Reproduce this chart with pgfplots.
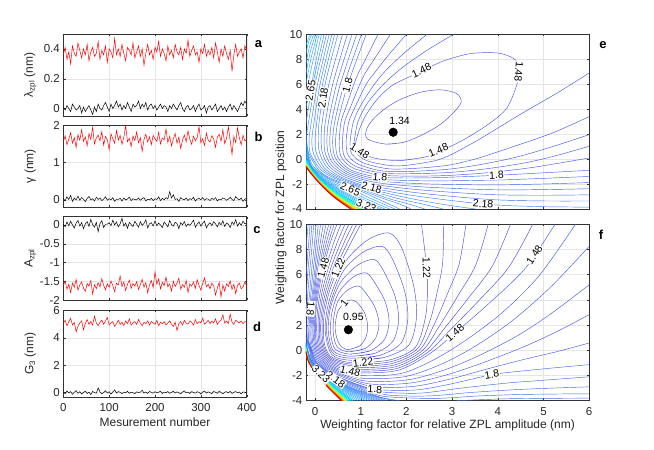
\documentclass[border=0pt]{standalone}
\usepackage{pgfplots}
\pgfplotsset{compat=1.18}
\usepackage{pgfplotstable}
\usepackage{fontspec}
\setmainfont{Liberation Sans}
\definecolor{cA}{rgb}{0.30,0.30,0.85}
\definecolor{cB}{rgb}{0.28,0.34,0.90}
\definecolor{cC}{rgb}{0.25,0.40,0.95}
\definecolor{cD}{rgb}{0.20,0.50,1.00}
\definecolor{cE}{rgb}{0.12,0.62,1.00}
\definecolor{cF}{rgb}{0.05,0.72,1.00}
\definecolor{b1}{rgb}{0.05,0.78,1.00}
\definecolor{b2}{rgb}{0.00,0.88,1.00}
\definecolor{b3}{rgb}{0.00,0.97,0.95}
\definecolor{b4}{rgb}{0.25,1.00,0.75}
\definecolor{b5}{rgb}{0.50,1.00,0.50}
\definecolor{b6}{rgb}{0.75,1.00,0.25}
\definecolor{b7}{rgb}{0.95,0.95,0.05}
\definecolor{b8}{rgb}{1.00,0.80,0.00}
\definecolor{b9}{rgb}{1.00,0.60,0.00}
\definecolor{b10}{rgb}{1.00,0.42,0.00}
\definecolor{b11}{rgb}{1.00,0.20,0.00}
\definecolor{b12}{rgb}{0.85,0.00,0.00}
\pgfplotstableread{
x ar ak br bk cr ck dr dk
0 0.36 0.01 1.55 0.03 -1.62 0.02 5.05 0.05
4 0.41 -0.01 1.72 -0.02 -1.50 -0.05 5.30 -0.08
8 0.33 0.02 1.48 0.08 -1.71 0.08 4.90 0.12
12 0.38 0.00 1.63 0.01 -1.58 -0.02 5.20 -0.02
16 0.30 -0.02 1.80 0.12 -1.80 0.10 5.45 0.08
20 0.42 0.03 1.52 -0.04 -1.55 0.00 4.95 -0.12
24 0.37 0.01 1.67 0.05 -1.66 -0.08 5.15 0.03
28 0.35 -0.01 1.41 0.00 -1.45 0.05 4.45 0.15
32 0.44 0.00 1.75 0.10 -1.74 0.12 4.85 -0.05
36 0.39 0.02 1.60 -0.01 -1.60 -0.03 5.10 0.07
40 0.34 -0.03 1.88 0.06 -1.52 0.06 5.25 -0.10
44 0.40 0.01 1.57 0.02 -1.68 -0.10 4.60 0.02
48 0.36 -0.02 1.69 -0.05 -1.77 0.03 5.05 0.10
52 0.43 0.00 1.45 0.04 -1.56 0.09 5.35 -0.06
56 0.32 0.02 1.78 0.09 -1.63 -0.04 5.00 0.04
60 0.38 -0.01 1.62 0.00 -1.48 0.15 5.20 -0.15
64 0.41 -0.04 1.95 0.03 -1.84 0.01 4.95 0.09
68 0.35 0.01 1.50 -0.03 -1.59 -0.06 5.60 0.00
72 0.37 -0.02 1.66 0.07 -1.70 0.07 5.10 -0.04
76 0.45 0.03 1.74 0.01 -1.54 -0.18 4.90 0.35
80 0.33 0.00 1.58 0.05 -1.65 0.04 5.15 0.06
84 0.39 -0.01 1.83 -0.02 -1.43 0.11 5.30 -0.09
88 0.36 0.02 1.47 0.02 -1.61 -0.07 5.00 0.01
92 0.42 0.04 1.70 0.08 -1.73 0.02 5.25 0.14
96 0.31 0.01 1.61 -0.01 -1.57 0.02 5.50 -0.03
100 0.40 -0.02 1.35 0.03 -1.66 0.06 4.95 0.07
104 0.38 0.03 1.77 0.00 -1.49 -0.02 5.10 -0.11
108 0.34 0.00 1.64 0.06 -1.62 0.13 5.20 0.05
112 0.47 0.02 1.52 -0.04 -1.78 0.00 4.85 0.20
116 0.36 0.05 1.86 0.02 -1.55 0.08 5.05 -0.02
120 0.40 0.01 1.60 0.01 -1.60 -0.05 5.30 0.08
124 0.35 0.03 1.73 0.04 -1.36 0.03 5.00 0.02
128 0.43 -0.01 1.49 -0.03 -1.64 0.18 5.15 -0.07
132 0.37 0.02 1.68 0.05 -1.52 -0.03 4.90 0.04
136 0.32 0.00 1.99 0.00 -1.75 0.05 5.25 -0.01
140 0.41 0.04 1.56 0.02 -1.58 -0.09 5.05 0.10
144 0.39 0.01 1.65 0.07 -1.47 0.07 5.40 -0.05
148 0.36 -0.02 1.43 -0.02 -1.69 0.01 4.95 0.03
152 0.44 0.03 1.71 0.03 -1.56 -0.04 5.10 0.00
156 0.34 0.01 1.59 0.01 -1.63 0.10 5.20 -0.08
160 0.38 0.02 1.82 0.00 -1.51 0.02 5.00 0.06
164 0.42 0.05 1.53 0.05 -1.72 -0.06 5.35 0.01
168 0.35 0.00 1.67 -0.01 -1.59 0.09 5.10 0.04
172 0.40 0.03 1.30 0.03 -1.45 -0.01 4.90 0.18
176 0.29 0.01 1.62 0.06 -1.66 0.04 5.15 -0.03
180 0.37 0.04 1.76 -0.03 -1.54 0.14 5.05 0.05
184 0.43 -0.01 1.55 0.02 -1.81 -0.08 5.25 -0.06
188 0.36 0.02 1.69 0.00 -1.60 0.03 4.95 0.09
192 0.39 0.03 1.48 0.04 -1.48 0.06 5.20 0.02
196 0.33 0.00 1.73 -0.02 -1.67 -0.03 5.10 -0.04
200 0.41 0.02 1.64 0.03 -1.25 0.11 5.00 0.07
204 0.38 -0.01 1.57 0.01 -1.58 -0.02 5.30 -0.01
208 0.45 0.01 1.81 0.08 -1.44 0.05 4.90 0.03
212 0.35 0.03 1.50 -0.02 -1.70 0.00 5.15 0.11
216 0.40 0.00 1.66 0.04 -1.53 -0.07 5.05 -0.07
220 0.37 0.02 1.61 0.00 -1.62 0.08 5.20 0.04
224 0.32 0.01 1.90 0.06 -1.39 0.02 4.95 0.00
228 0.42 -0.02 1.54 0.02 -1.65 -0.05 5.10 0.08
232 0.36 0.02 1.70 0.22 -1.57 0.12 5.25 -0.05
236 0.39 0.00 1.45 0.05 -1.76 0.01 5.00 0.02
240 0.34 0.03 1.63 0.14 -1.50 -0.03 4.85 0.10
244 0.43 0.01 1.78 0.01 -1.64 0.07 5.15 -0.03
248 0.38 -0.01 1.52 0.03 -1.55 0.04 4.55 0.06
252 0.36 0.02 1.68 -0.04 -1.42 -0.10 5.05 0.00
256 0.41 0.04 1.38 0.06 -1.71 0.06 5.20 -0.09
260 0.33 0.00 1.60 0.02 -1.59 0.00 4.95 0.05
264 0.40 -0.02 1.74 0.00 -1.66 0.09 5.30 0.13
268 0.37 0.01 1.56 0.05 -1.48 -0.04 5.10 -0.02
272 0.46 0.02 1.85 -0.02 -1.80 0.03 5.00 0.04
276 0.35 -0.01 1.62 0.03 -1.57 -0.01 5.25 -0.06
280 0.39 0.00 1.49 0.01 -1.63 0.05 5.15 0.08
284 0.42 0.02 1.71 0.07 -1.52 0.13 4.95 0.01
288 0.36 -0.02 1.58 -0.03 -1.69 -0.06 5.35 -0.04
292 0.38 0.01 1.67 0.02 -1.46 0.02 5.05 0.07
296 0.31 0.03 1.97 0.04 -1.61 0.08 5.20 0.02
300 0.40 -0.01 1.53 0.00 -1.74 -0.03 5.10 -0.10
304 0.37 0.00 1.64 0.06 -1.56 0.04 5.45 0.05
308 0.43 0.02 1.46 -0.01 -1.41 0.10 5.00 0.12
312 0.35 -0.03 1.79 0.03 -1.65 -0.08 5.15 -0.03
316 0.39 0.01 1.60 0.02 -1.58 0.01 5.30 0.06
320 0.36 0.02 1.55 -0.02 -1.70 0.06 5.05 0.00
324 0.41 -0.01 1.72 0.04 -1.55 -0.02 5.25 -0.07
328 0.34 0.01 1.63 0.01 -1.62 0.09 5.10 0.09
332 0.44 0.03 1.41 0.06 -1.87 0.03 5.40 0.03
336 0.38 -0.02 1.68 -0.03 -1.68 -0.05 5.00 -0.05
340 0.31 0.00 1.76 0.02 -1.53 0.07 5.20 0.11
344 0.40 0.02 1.57 0.00 -1.92 0.00 5.30 0.01
348 0.35 -0.01 1.88 0.05 -1.60 0.11 5.70 -0.08
352 0.42 0.01 1.51 0.03 -1.76 -0.04 5.10 0.04
356 0.37 -0.02 1.65 -0.01 -1.57 0.05 5.25 0.07
360 0.33 0.01 1.96 0.02 -1.64 0.02 5.05 -0.02
364 0.39 0.03 1.59 0.07 -1.49 -0.07 5.75 0.10
368 0.25 -0.01 1.22 0.01 -1.72 0.08 5.15 -0.06
372 0.36 0.02 1.70 -0.02 -1.58 0.01 5.00 0.03
376 0.43 0.00 1.54 0.09 -1.83 0.14 5.30 0.08
380 0.35 -0.02 1.93 0.03 -1.61 -0.03 5.20 -0.01
384 0.38 0.01 1.66 0.00 -1.55 0.06 5.10 0.05
388 0.40 0.04 1.48 0.05 -1.70 -0.01 5.25 -0.09
392 0.34 0.02 1.73 -0.04 -1.66 0.10 5.05 0.06
396 0.42 0.05 1.58 0.02 -1.52 0.03 5.20 0.02
400 0.39 0.03 1.62 0.04 -1.62 0.05 5.15 -0.04
}\tsdata
\tikzset{
  bd/.style={line width=0.85pt},
  clab/.style={font=\fontsize{10.5}{12}\selectfont, fill=white, inner sep=0.6pt, text=black},
}
\pgfplotsset{
  base/.style={scale only axis, anchor=south west,
    axis line style={draw=black!80, line width=0.5pt},
    major tick length=2.2pt, tick align=inside,
    tick style={draw=black!80, line width=0.4pt},
    grid=major, grid style={draw=black!10, line width=0.4pt},
    ticklabel style={font=\fontsize{11.5}{13}\selectfont, text=black!85},
    /pgf/number format/assume math mode=true,
    label style={font=\fontsize{12}{14}\selectfont, text=black!85}},
  ts/.style={base, width=183.4pt, xmin=0, xmax=400, xtick={0,100,200,300,400}, xticklabels={},
    ylabel style={at={(axis description cs:-0.18,0.5)}, anchor=center},
    every axis plot/.append style={line width=0.5pt}},
  cp/.style={base, width=283.3pt, xmin=-0.2, xmax=6, ymin=-4, ymax=10,
    xtick={0,1,2,3,4,5,6}, ytick={-4,-2,0,2,4,6,8,10},
    every axis plot/.append style={smooth, line width=0.45pt}},
}
\begin{document}
\begin{tikzpicture}[x=1pt,y=1pt]
\path[use as bounding box] (0,0) rectangle (654,450);
% ---------- a
\begin{axis}[ts, at={(63.3pt,334pt)}, height=82pt, ymin=-0.05, ymax=0.5, ytick={0,0.2,0.4}, ylabel={λ\textsubscript{zpl} (nm)}]
\addplot[red] table[x=x,y=ar]{\tsdata};
\addplot[black] table[x=x,y=ak]{\tsdata};
\end{axis}
% ---------- b
\begin{axis}[ts, at={(63.3pt,242.7pt)}, height=82pt, ymin=-0.2, ymax=2, ytick={0,1,2}, ylabel={γ (nm)}]
\addplot[red] table[x=x,y=br]{\tsdata};
\addplot[black] table[x=x,y=bk]{\tsdata};
\end{axis}
% ---------- c
\begin{axis}[ts, at={(63.3pt,150pt)}, height=83.3pt, ymin=-2, ymax=0.22, ytick={-2,-1.5,-1,-0.5,0}, ylabel={A\textsubscript{zpl}}]
\addplot[black] table[x=x,y=ck]{\tsdata};
\addplot[red] table[x=x,y=cr]{\tsdata};
\end{axis}
% ---------- d
\begin{axis}[ts, at={(63.3pt,52.7pt)}, height=87.3pt, ymin=-0.34, ymax=6.05, ytick={0,2,4,6}, ylabel={G\textsubscript{3} (nm)},
  xticklabels={0,100,200,300,400}, xticklabel style={yshift=-3pt},
  xlabel={Mesurement number}, xlabel style={at={(axis description cs:0.5,-0.29)}, anchor=center}]
\addplot[red] table[x=x,y=dr]{\tsdata};
\addplot[black] table[x=x,y=dk]{\tsdata};
\end{axis}
% ---------- e
\begin{axis}[cp, at={(305.9pt,241pt)}, height=174.7pt, xticklabels={}]
\addplot[cA] coordinates {(1.55,1.2)(1.95,1.35)(2.35,1.95)(2.75,2.8)(3.05,3.8)(3.2,4.6)(3.1,5.25)(2.75,5.55)(2.3,5.35)(1.85,4.75)(1.5,3.95)(1.25,3.1)(1.12,2.3)(1.15,1.6)(1.55,1.2)(1.95,1.35)};
\addplot[cB] coordinates {(1.86,-0.12)(2.45,0.2)(2.9,0.9)(3.32,1.69)(3.83,2.89)(4.2,4.1)(4.42,6.0)(4.47,7.3)(4.35,8.05)(4.0,8.5)(3.4,8.45)(2.8,7.85)(2.33,7.03)(1.71,5.95)(1.35,4.75)(1.08,3.3)(0.93,1.9)(0.9,0.8)(1.28,0.1)(1.86,-0.12)(2.45,0.2)};
\addplot[cB] coordinates {(3.03,10)(2.4,8.6)(1.9,7.3)(1.5,6.0)(1.15,4.5)(0.94,3.0)(0.86,1.5)(0.85,1.0)(0.883,0.552)(1.15,-0.15)(1.8,-0.55)(2.6,-0.15)(3.0,0.4)(3.6,1.6)(4.5,3.6)(5.3,5.3)(6,6.9)};
\addplot[cB] coordinates {(2.45,10)(1.95,8.5)(1.55,7.1)(1.3,6.0)(1.0,4.3)(0.84,3.0)(0.77,1.5)(0.77,0.9)(0.807,0.408)(1.05,-0.3)(1.7,-0.8)(2.8,-0.55)(3.5,0.0)(4.3,0.95)(5.2,2.1)(6,3.4)};
\addplot[cB] coordinates {(2.0,10)(1.6,8.3)(1.3,6.9)(1.12,6.0)(0.88,4.2)(0.74,3.0)(0.68,1.5)(0.69,0.8)(0.731,0.264)(0.97,-0.45)(1.6,-1.0)(2.8,-0.85)(3.6,-0.45)(4.4,0.15)(5.2,1.0)(6,1.96)};
\addplot[cB] coordinates {(1.65,10)(1.33,8.2)(1.1,6.9)(0.98,6.0)(0.78,4.2)(0.65,3.0)(0.6,1.5)(0.61,0.7)(0.655,0.12)(0.9,-0.6)(1.55,-1.15)(2.8,-1.1)(3.7,-0.8)(4.6,-0.3)(5.3,0.3)(6,1.03)};
\addplot[cB] coordinates {(1.38,10)(1.12,8.1)(0.95,6.9)(0.85,6.0)(0.68,4.2)(0.57,3.0)(0.53,1.5)(0.54,0.6)(0.6,0.01)(0.85,-0.75)(1.5,-1.3)(2.6,-1.35)(3.6,-1.15)(4.6,-0.75)(5.3,-0.35)(6,0.09)};
\addplot[cC] coordinates {(1.12,10)(0.72,6.0)(0.5,3.0)(0.45,1.5)(0.47,0.5)(0.541,-0.096)(0.8,-0.9)(1.42,-1.45)(2.5,-1.5)(3.97,-1.3)(5,-1.1)(6,-0.9)};
\addplot[cC] coordinates {(1.017,10)(0.637,6)(0.432,3)(0.387,1.5)(0.408,0.5)(0.494,-0.186)(0.767,-1.0)(1.39,-1.592)(2.45,-1.742)(3.922,-1.683)(4.967,-1.55)(6,-1.392)};
\addplot[cC] coordinates {(0.913,10)(0.553,6)(0.363,3)(0.323,1.5)(0.347,0.5)(0.446,-0.276)(0.733,-1.1)(1.36,-1.733)(2.4,-1.983)(3.873,-2.067)(4.933,-2.0)(6,-1.883)};
\addplot[cC] coordinates {(0.81,10)(0.47,6)(0.295,3)(0.26,1.5)(0.285,0.5)(0.399,-0.366)(0.7,-1.2)(1.33,-1.875)(2.35,-2.225)(3.825,-2.45)(4.9,-2.45)(6,-2.375)};
\addplot[cC] coordinates {(0.707,10)(0.387,6)(0.227,3)(0.197,1.5)(0.223,0.5)(0.351,-0.456)(0.667,-1.3)(1.3,-2.017)(2.3,-2.467)(3.777,-2.833)(4.867,-2.9)(6,-2.867)};
\addplot[cC] coordinates {(0.603,10)(0.303,6)(0.158,3)(0.133,1.5)(0.162,0.5)(0.304,-0.546)(0.633,-1.4)(1.27,-2.158)(2.25,-2.708)(3.728,-3.217)(4.833,-3.35)(6,-3.358)};
\addplot[cD] coordinates {(0.5,10)(0.22,6)(0.09,3)(0.07,1.5)(0.1,0.5)(0.256,-0.636)(0.6,-1.5)(1.24,-2.3)(2.2,-2.95)(3.68,-3.6)(4.8,-3.8)(6,-3.85)};
\addplot[cD] coordinates {(0.43,10)(0.165,6)(0.04,3)(0.0,1.5)(0.03,0.5)(0.2085,-0.726)(0.55,-1.52)(1.15,-2.33)(1.95,-3.05)(2.75,-3.6)(3.5,-4)};
\addplot[cD] coordinates {(0.37,10)(0.11,6)(-0.02,3)(-0.07,1.5)(-0.03,0.4)(0.17,-0.798)(0.5,-1.55)(1.06,-2.33)(1.75,-3.1)(2.35,-3.6)(2.8,-4)};
\addplot[cD] coordinates {(0.31,10)(0.055,6)(-0.08,3)(-0.13,1.6)(-0.1,0.4)(0.1325,-0.87)(0.45,-1.57)(0.98,-2.32)(1.6,-3.15)(2.05,-3.6)(2.4,-4)};
\addplot[cD] coordinates {(0.25,10)(0.0,6)(-0.14,3)(-0.185,1.8)(-0.14,0.5)(0.0945,-0.942)(0.38,-1.59)(0.9,-2.31)(1.45,-3.1)(1.85,-3.6)(2.1,-4)};
\addplot[cD] coordinates {(0.2,10)(-0.05,6)(-0.17,3.5)(-0.2,2.8)};
\addplot[cD] coordinates {(-0.2,1.7)(-0.15,0.5)(-0.07,-0.4)(0.075,-0.978)(0.33,-1.6)(0.83,-2.3)(1.35,-3.15)(1.85,-4)};
\addplot[cE] coordinates {(0.14,10)(0.0,7.5)(-0.1,5.5)(-0.2,4.2)};
\addplot[cE] coordinates {(-0.2,1.3)(-0.1,-0.4)(0.1,-1.13)(0.4,-1.8)(0.77,-2.4)(1.25,-3.2)(1.75,-4)};
\addplot[cE] coordinates {(0.09,10)(-0.05,7.8)(-0.2,5.2)};
\addplot[cE] coordinates {(-0.2,1.0)(-0.095,-0.476)(0.1,-1.224)(0.387,-1.902)(0.732,-2.514)(1.174,-3.276)(1.63,-4)};
\addplot[cE] coordinates {(0.05,10)(-0.08,8.2)(-0.2,6.0)};
\addplot[cE] coordinates {(-0.2,0.75)(-0.091,-0.54)(0.1,-1.302)(0.377,-1.986)(0.70,-2.61)(1.11,-3.34)(1.53,-4)};
\addplot[cE] coordinates {(0.01,10)(-0.11,8.5)(-0.2,6.8)};
\addplot[cE] coordinates {(-0.2,0.55)(-0.087,-0.591)(0.1,-1.365)(0.368,-2.054)(0.675,-2.686)(1.059,-3.391)(1.45,-4)};
\addplot[cE] coordinates {(-0.03,10)(-0.13,8.9)(-0.2,7.6)};
\addplot[cE] coordinates {(-0.2,0.4)(-0.085,-0.629)(0.1,-1.412)(0.362,-2.105)(0.656,-2.743)(1.021,-3.429)(1.39,-4)};
\addplot[cE] coordinates {(-0.07,10)(-0.15,9.3)(-0.2,8.4)};
\addplot[cE] coordinates {(-0.2,0.25)(-0.082,-0.667)(0.1,-1.459)(0.356,-2.156)(0.637,-2.8)(0.983,-3.467)(1.33,-4)};
\addplot[cF] coordinates {(-0.11,10)(-0.2,9.1)};
\addplot[cF] coordinates {(-0.2,0.12)(-0.08,-0.7)(0.1,-1.5)(0.35,-2.2)(0.62,-2.85)(0.95,-3.5)(1.28,-4)};
\addplot[b1,bd] coordinates {(-0.2,0.0)(-0.083,-0.764)(0.092,-1.54)(0.329,-2.232)(0.585,-2.874)(0.894,-3.508)(1.2,-4)};
\addplot[b2,bd] coordinates {(-0.2,-0.1)(-0.086,-0.82)(0.085,-1.575)(0.311,-2.26)(0.554,-2.895)(0.845,-3.515)(1.13,-4)};
\addplot[b3,bd] coordinates {(-0.2,-0.19)(-0.088,-0.868)(0.079,-1.605)(0.295,-2.284)(0.528,-2.913)(0.803,-3.521)(1.07,-4)};
\addplot[b4,bd] coordinates {(-0.2,-0.26)(-0.09,-0.908)(0.074,-1.63)(0.282,-2.304)(0.506,-2.928)(0.768,-3.526)(1.02,-4)};
\addplot[b5,bd] coordinates {(-0.2,-0.32)(-0.092,-0.94)(0.07,-1.65)(0.272,-2.32)(0.488,-2.94)(0.74,-3.53)(0.98,-4)};
\addplot[b6,bd] coordinates {(-0.2,-0.38)(-0.094,-0.972)(0.066,-1.67)(0.262,-2.336)(0.47,-2.952)(0.712,-3.534)(0.94,-4)};
\addplot[b7,bd] coordinates {(-0.2,-0.43)(-0.095,-0.996)(0.063,-1.685)(0.254,-2.348)(0.457,-2.961)(0.691,-3.537)(0.91,-4)};
\addplot[b8,bd] coordinates {(-0.2,-0.47)(-0.096,-1.02)(0.06,-1.7)(0.246,-2.36)(0.444,-2.97)(0.67,-3.54)(0.88,-4)};
\addplot[b9,bd] coordinates {(-0.2,-0.52)(-0.097,-1.044)(0.057,-1.715)(0.238,-2.372)(0.431,-2.979)(0.649,-3.543)(0.85,-4)};
\addplot[b10,bd] coordinates {(-0.2,-0.55)(-0.098,-1.06)(0.055,-1.725)(0.233,-2.38)(0.422,-2.985)(0.635,-3.545)(0.83,-4)};
\addplot[b11,bd] coordinates {(-0.2,-0.59)(-0.099,-1.084)(0.052,-1.74)(0.225,-2.392)(0.409,-2.994)(0.614,-3.548)(0.8,-4)};
\addplot[b12,bd] coordinates {(-0.2,-0.62)(-0.1,-1.1)(0.05,-1.75)(0.22,-2.4)(0.4,-3.0)(0.6,-3.55)(0.78,-4)};
\addplot[only marks, mark=*, mark size=4.3pt, black] coordinates {(1.71,2.15)};
\node[font=\fontsize{10.5}{12}\selectfont] at (axis cs:1.85,3.1) {1.34};
\node[clab, rotate=25] at (axis cs:2.33,7.1) {1.48};
\node[clab, rotate=-95] at (axis cs:4.46,7.0) {1.48};
\node[clab, rotate=-32] at (axis cs:0.98,0.66) {1.48};
\node[clab, rotate=23] at (axis cs:2.7,0.7) {1.48};
\node[clab, rotate=75] at (axis cs:0.71,5.9) {1.8};
\node[clab, rotate=81] at (axis cs:0.175,4.9) {2.18};
\node[clab, rotate=80] at (axis cs:-0.1,5.5) {2.65};
\node[clab, rotate=-5] at (axis cs:1.42,-1.45) {1.8};
\node[clab, rotate=-15] at (axis cs:1.24,-2.3) {2.18};
\node[clab, rotate=-24] at (axis cs:0.77,-2.4) {2.65};
\node[clab, rotate=-22] at (axis cs:1.12,-3.75) {3.23};
\node[clab, rotate=3] at (axis cs:3.97,-1.3) {1.8};
\node[clab, rotate=-5] at (axis cs:3.68,-3.6) {2.18};
\end{axis}
% ---------- f
\begin{axis}[cp, at={(305.9pt,49.3pt)}, height=176.4pt, xticklabel style={yshift=-3pt},
  xlabel={Weighting factor for relative ZPL amplitude (nm)}, xlabel style={at={(axis description cs:0.5,-0.138)}, anchor=center}]
\addplot[cA] coordinates {(0.72,0.05)(0.98,0.35)(1.12,1.1)(1.15,2.0)(1.08,3.0)(0.92,3.8)(0.8,4.0)(0.65,3.8)(0.5,3.1)(0.45,2.2)(0.46,1.2)(0.55,0.4)(0.72,0.05)(0.98,0.35)};
\addplot[cA] coordinates {(0.74,-0.12)(1.1,0.15)(1.33,1.0)(1.4,2.2)(1.3,3.5)(1.1,4.6)(0.95,5.1)(0.72,4.8)(0.5,3.9)(0.41,2.6)(0.4,1.3)(0.49,0.25)(0.74,-0.12)(1.1,0.15)};
\addplot[cA] coordinates {(0.76,-0.3)(1.2,-0.05)(1.52,0.85)(1.62,2.3)(1.53,3.9)(1.3,5.4)(1.12,6.15)(0.83,5.8)(0.52,4.6)(0.37,3.0)(0.34,1.4)(0.44,0.1)(0.76,-0.3)(1.2,-0.05)};
\addplot[cA] coordinates {(0.78,-0.47)(1.3,-0.25)(1.7,0.7)(1.83,2.4)(1.75,4.3)(1.5,6.3)(1.3,7.2)(0.95,6.8)(0.56,5.4)(0.34,3.4)(0.29,1.5)(0.41,-0.08)(0.78,-0.47)(1.3,-0.25)};
\addplot[cA] coordinates {(0.8,-0.63)(1.4,-0.42)(1.88,0.55)(2.03,2.5)(1.96,4.7)(1.7,7.2)(1.47,8.25)(1.06,7.8)(0.62,6.3)(0.34,3.8)(0.25,1.6)(0.39,-0.22)(0.8,-0.63)(1.4,-0.42)};
\addplot[cA] coordinates {(0.82,-0.8)(1.5,-0.58)(2.05,0.4)(2.22,2.6)(2.16,5.1)(1.9,8.1)(1.63,9.3)(1.17,8.8)(0.68,7.1)(0.33,4.2)(0.22,1.7)(0.37,-0.35)(0.82,-0.8)(1.5,-0.58)};
\addplot[cA] coordinates {(1.0,10)(0.78,8.5)(0.51,6.53)(0.3,4.5)(0.19,2.5)(0.2,0.6)(0.33,-0.45)(0.62,-0.88)(0.95,-0.98)(1.65,-0.75)(2.2,0.25)(2.42,2.7)(2.46,5.0)(2.43,7.0)(2.33,10)};
\addplot[cA] coordinates {(0.913,10)(0.705,8.5)(0.455,6.53)(0.262,4.5)(0.16,2.5)(0.172,0.6)(0.308,-0.508)(0.6,-0.975)(0.942,-1.113)(1.675,-0.892)(2.25,0.158)(2.527,2.478)(2.683,4.783)(2.792,6.917)(2.817,10)};
\addplot[cA] coordinates {(0.827,10)(0.63,8.5)(0.4,6.53)(0.223,4.5)(0.13,2.5)(0.143,0.6)(0.287,-0.567)(0.58,-1.07)(0.933,-1.247)(1.7,-1.033)(2.3,0.067)(2.633,2.257)(2.907,4.567)(3.153,6.833)(3.303,10)};
\addplot[cA] coordinates {(0.74,10)(0.555,8.5)(0.345,6.53)(0.185,4.5)(0.1,2.5)(0.115,0.6)(0.265,-0.625)(0.56,-1.165)(0.925,-1.38)(1.725,-1.175)(2.35,-0.025)(2.74,2.035)(3.13,4.35)(3.515,6.75)(3.79,10)};
\addplot[cA] coordinates {(0.653,10)(0.48,8.5)(0.29,6.53)(0.147,4.5)(0.07,2.5)(0.087,0.6)(0.243,-0.683)(0.54,-1.26)(0.917,-1.513)(1.75,-1.317)(2.4,-0.117)(2.847,1.813)(3.353,4.133)(3.877,6.667)(4.277,10)};
\addplot[cA] coordinates {(0.567,10)(0.405,8.5)(0.235,6.53)(0.108,4.5)(0.04,2.5)(0.058,0.6)(0.222,-0.742)(0.52,-1.355)(0.908,-1.647)(1.775,-1.458)(2.45,-0.208)(2.953,1.592)(3.577,3.917)(4.238,6.583)(4.763,10)};
\addplot[cB] coordinates {(0.48,10)(0.33,8.5)(0.18,6.53)(0.07,4.5)(0.01,2.5)(0.03,0.6)(0.2,-0.8)(0.5,-1.45)(0.9,-1.78)(1.8,-1.6)(2.5,-0.3)(3.06,1.37)(3.8,3.7)(4.6,6.5)(5.25,10)};
\addplot[cB] coordinates {(0.42,10)(0.287,8.5)(0.15,6.53)(0.048,4.5)(-0.012,2.5)(0.003,0.6)(0.175,-0.833)(0.483,-1.525)(0.968,-2.0)(1.87,-1.85)(2.6,-0.75)(3.3,0.8)(4.1,3.0)(4.9,5.9)(5.7,10)};
\addplot[cB] coordinates {(0.36,10)(0.243,8.5)(0.12,6.53)(0.027,4.5)(-0.033,2.5)(-0.023,0.6)(0.15,-0.867)(0.467,-1.6)(1.037,-2.22)(1.95,-2.1)(2.7,-1.2)(3.45,0.2)(4.3,2.3)(5.15,5.0)(6,8.25)};
\addplot[cB] coordinates {(0.3,10)(0.2,8.5)(0.09,6.53)(0.005,4.5)(-0.055,2.5)(-0.05,0.6)(0.125,-0.9)(0.45,-1.675)(1.105,-2.44)(2.02,-2.35)(2.8,-1.6)(3.6,-0.4)(4.45,1.2)(5.2,3.0)(6,5.2)};
\addplot[cB] coordinates {(0.24,10)(0.157,8.5)(0.06,6.53)(-0.017,4.5)(-0.077,2.5)(-0.077,0.6)(0.1,-0.933)(0.433,-1.75)(1.173,-2.66)(2.08,-2.6)(2.88,-1.95)(3.7,-0.95)(4.55,0.25)(5.3,1.5)(6,2.83)};
\addplot[cB] coordinates {(0.18,10)(0.113,8.5)(0.03,6.53)(-0.038,4.5)(-0.098,2.5)(-0.103,0.6)(0.075,-0.967)(0.417,-1.825)(1.242,-2.88)(2.14,-2.87)(2.94,-2.3)(3.8,-1.45)(4.6,-0.7)(5.3,-0.1)(6,0.58)};
\addplot[cC] coordinates {(0.12,10)(0.07,8.5)(0.0,6.53)(-0.06,4.5)(-0.12,2.5)(-0.13,0.6)(0.05,-1.0)(0.4,-1.9)(0.8,-2.55)(1.31,-3.1)(2.2,-3.15)(3.0,-2.65)(3.87,-1.93)(4.6,-1.62)(5.3,-1.37)(6,-1.14)};
\addplot[cC] coordinates {(0.07,10)(0.03,8.5)(-0.035,6.53)(-0.09,4.5)(-0.14,2.8)(-0.16,1.5)(-0.145,0.7)(-0.07,0.0)(0.033,-1.0)(0.428,-2.0)(1.155,-3.0)(1.5,-3.32)(2.3,-3.4)(3.2,-3.0)(4.2,-2.6)(5.1,-2.35)(6,-2.1)};
\addplot[cC] coordinates {(0.02,10)(-0.01,8.5)(-0.07,6.53)(-0.12,4.5)(-0.17,2.8)(-0.185,1.6)(-0.165,0.8)(-0.08,0.0)(0.017,-1.0)(0.397,-2.0)(1.09,-3.0)(1.6,-3.55)(2.5,-3.62)(3.4,-3.35)(4.4,-3.12)(5.2,-3.0)(6,-2.9)};
\addplot[cC] coordinates {(-0.03,10)(-0.06,8.5)(-0.11,6.53)(-0.16,4.5)(-0.2,2.6)};
\addplot[cC] coordinates {(-0.2,1.1)(-0.09,0.0)(0.0,-1.0)(0.365,-2.0)(1.025,-3.0)(1.5,-3.65)(2.6,-3.82)(3.6,-3.62)(4.6,-3.5)(6,-3.45)};
\addplot[cC] coordinates {(-0.07,10)(-0.1,8.5)(-0.15,6.53)(-0.2,4.0)};
\addplot[cC] coordinates {(-0.2,0.95)(-0.1,0.0)(-0.017,-1.0)(0.333,-2.0)(0.96,-3.0)(1.4,-3.7)(1.85,-4)};
\addplot[cC] coordinates {(3.1,-4)(4.3,-3.84)(6,-3.8)};
\addplot[cC] coordinates {(-0.11,10)(-0.14,8.5)(-0.2,5.8)};
\addplot[cC] coordinates {(-0.2,0.8)(-0.11,0.0)(-0.033,-1.0)(0.302,-2.0)(0.895,-3.0)(1.3,-3.6)(1.72,-4)};
\addplot[cD] coordinates {(-0.15,10)(-0.2,8.0)};
\addplot[cD] coordinates {(-0.2,0.65)(-0.12,0.0)(-0.05,-1.0)(0.27,-2.0)(0.83,-3.0)(1.2,-3.5)(1.58,-4)};
\addplot[cD] coordinates {(-0.2,0.6)(-0.055,-1)(0.262,-2)(0.803,-3)(1.157,-3.5)(1.522,-4)};
\addplot[cD] coordinates {(-0.2,0.575)(-0.06,-1)(0.253,-2)(0.775,-3)(1.113,-3.5)(1.463,-4)};
\addplot[cD] coordinates {(-0.2,0.55)(-0.065,-1)(0.245,-2)(0.748,-3)(1.07,-3.5)(1.405,-4)};
\addplot[cD] coordinates {(-0.2,0.53)(-0.07,-1)(0.237,-2)(0.72,-3)(1.027,-3.5)(1.347,-4)};
\addplot[cD] coordinates {(-0.2,0.505)(-0.075,-1)(0.228,-2)(0.693,-3)(0.983,-3.5)(1.288,-4)};
\addplot[cE] coordinates {(-0.2,0.48)(-0.08,-1)(0.22,-2)(0.665,-3)(0.94,-3.5)(1.23,-4)};
\addplot[cE] coordinates {(-0.2,0.46)(-0.085,-1)(0.212,-2)(0.638,-3)(0.897,-3.5)(1.172,-4)};
\addplot[cE] coordinates {(-0.2,0.435)(-0.09,-1)(0.203,-2)(0.61,-3)(0.853,-3.5)(1.113,-4)};
\addplot[cE] coordinates {(-0.2,0.41)(-0.095,-1)(0.195,-2)(0.583,-3)(0.81,-3.5)(1.055,-4)};
\addplot[cE] coordinates {(-0.2,0.39)(-0.1,-1)(0.187,-2)(0.555,-3)(0.767,-3.5)(0.997,-4)};
\addplot[cE] coordinates {(-0.2,0.37)(-0.105,-1)(0.178,-2)(0.528,-3)(0.723,-3.5)(0.938,-4)};
\addplot[cF] coordinates {(-0.2,0.35)(-0.11,-1)(0.17,-2)(0.5,-3)(0.68,-3.5)(0.88,-4)};
\addplot[b1,bd] coordinates {(-0.2,0.3)(-0.113,-1)(0.152,-2)(0.468,-3)(0.642,-3.5)(0.832,-4)};
\addplot[b2,bd] coordinates {(-0.2,0.24)(-0.116,-1)(0.137,-2)(0.44,-3)(0.608,-3.5)(0.79,-4)};
\addplot[b3,bd] coordinates {(-0.2,0.19)(-0.118,-1)(0.124,-2)(0.416,-3)(0.579,-3.5)(0.754,-4)};
\addplot[b4,bd] coordinates {(-0.2,0.14)(-0.12,-1)(0.113,-2)(0.396,-3)(0.555,-3.5)(0.724,-4)};
\addplot[b5,bd] coordinates {(-0.2,0.1)(-0.122,-1)(0.104,-2)(0.38,-3)(0.536,-3.5)(0.7,-4)};
\addplot[b6,bd] coordinates {(-0.2,0.06)(-0.124,-1)(0.095,-2)(0.364,-3)(0.517,-3.5)(0.676,-4)};
\addplot[b7,bd] coordinates {(-0.2,0.03)(-0.125,-1)(0.089,-2)(0.352,-3)(0.502,-3.5)(0.658,-4)};
\addplot[b8,bd] coordinates {(-0.2,0.0)(-0.126,-1)(0.082,-2)(0.34,-3)(0.488,-3.5)(0.64,-4)};
\addplot[b9,bd] coordinates {(-0.2,-0.04)(-0.127,-1)(0.075,-2)(0.328,-3)(0.474,-3.5)(0.622,-4)};
\addplot[b10,bd] coordinates {(-0.2,-0.07)(-0.128,-1)(0.071,-2)(0.32,-3)(0.464,-3.5)(0.61,-4)};
\addplot[b11,bd] coordinates {(-0.2,-0.11)(-0.129,-1)(0.064,-2)(0.308,-3)(0.45,-3.5)(0.592,-4)};
\addplot[b12,bd] coordinates {(-0.2,-0.15)(-0.13,-1)(0.06,-2)(0.3,-3)(0.44,-3.5)(0.58,-4)};
\addplot[only marks, mark=*, mark size=4.3pt, black] coordinates {(0.73,1.63)};
\node[font=\fontsize{10.5}{12}\selectfont] at (axis cs:0.84,2.67) {0.95};
\node[clab, rotate=52, inner sep=0.3pt] at (axis cs:0.64,3.72) {1};
\node[clab, rotate=67] at (axis cs:0.51,6.53) {1.22};
\node[clab, rotate=-88] at (axis cs:2.44,6.53) {1.22};
\node[clab, rotate=8] at (axis cs:1.05,-0.95) {1.22};
\node[clab, rotate=75] at (axis cs:0.18,6.53) {1.48};
\node[clab, rotate=-14] at (axis cs:0.77,-1.67) {1.48};
\node[clab, rotate=40] at (axis cs:3.06,1.37) {1.48};
\node[clab, rotate=56] at (axis cs:4.8,7.59) {1.48};
\node[clab, rotate=-95] at (axis cs:-0.095,3.3) {1.8};
\node[clab, rotate=-3] at (axis cs:1.31,-3.1) {1.8};
\node[clab, rotate=10] at (axis cs:3.87,-1.93) {1.8};
\node[clab, rotate=-35] at (axis cs:0.45,-2.32) {2.18};
\node[clab, rotate=-45] at (axis cs:0.13,-1.9) {3.23};
\end{axis}
% ---------- shared y label and panel letters
\node[rotate=90, font=\fontsize{12}{14}\selectfont, text=black!85] at (281,232.5) {Weighting factor for ZPL position};
\node[font=\fontsize{13}{15}\selectfont\bfseries] at (258.5,406) {a};
\node[font=\fontsize{13}{15}\selectfont\bfseries] at (258.5,313) {b};
\node[font=\fontsize{13}{15}\selectfont\bfseries] at (257,220) {c};
\node[font=\fontsize{13}{15}\selectfont\bfseries] at (257,123) {d};
\node[font=\fontsize{13}{15}\selectfont\bfseries] at (603,405) {e};
\node[font=\fontsize{13}{15}\selectfont\bfseries] at (601,215) {f};
\end{tikzpicture}
\end{document}
